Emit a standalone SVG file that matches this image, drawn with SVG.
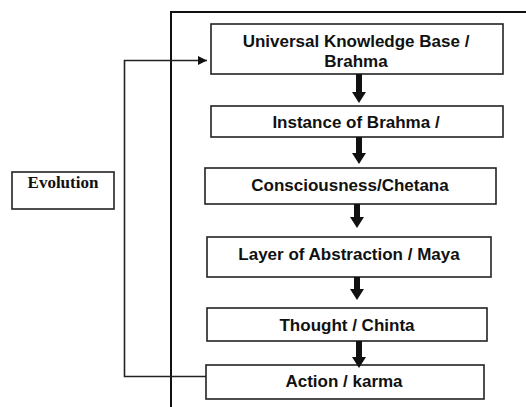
<svg xmlns="http://www.w3.org/2000/svg" width="526" height="407" viewBox="0 0 526 407">
<style>
.box{fill:#fff;stroke:#222;stroke-width:1.6}
.t{font-family:"Liberation Sans",Arial,sans-serif;font-weight:bold;font-size:17px;fill:#111;text-anchor:middle}
.ev{font-family:"Liberation Serif","Times New Roman",serif;font-weight:bold;font-size:17px;fill:#111;text-anchor:middle}
.ln{fill:none;stroke:#222;stroke-width:1.6}
.frame{fill:none;stroke:#111;stroke-width:2}
</style>
<defs>
<marker id="ah" viewBox="0 0 10 10" refX="10" refY="5" markerWidth="10" markerHeight="9" markerUnits="userSpaceOnUse" orient="auto">
<path d="M0,0 L10,5 L0,10 Z" fill="#111"/>
</marker>
<path id="dn" d="M-3,0 H3 V-11 H7 L0,0 L-7,-11 H-3 Z" fill="#111"/>
</defs>
<rect width="526" height="407" fill="#fff"/>
<path class="frame" d="M171,407 V12 H526"/>
<g id="evolution">
<rect class="box" x="12" y="172" width="102" height="37"/>
<text class="ev" x="63" y="188">Evolution</text>
</g>
<g id="n1">
<rect class="box" x="211" y="24" width="292" height="50"/>
<text class="t" x="356" y="46.5">Universal Knowledge Base /</text>
<text class="t" x="356" y="66.5">Brahma</text>
</g>
<g id="n2">
<rect class="box" x="211" y="106" width="292" height="31"/>
<text class="t" x="356" y="128">Instance of Brahma /</text>
</g>
<g id="n3">
<rect class="box" x="205" y="168" width="291" height="36"/>
<text class="t" x="350" y="191">Consciousness/Chetana</text>
</g>
<g id="n4">
<rect class="box" x="207" y="237" width="284" height="40"/>
<text class="t" x="349" y="260">Layer of Abstraction / Maya</text>
</g>
<g id="n5">
<rect class="box" x="207" y="308" width="280" height="33"/>
<text class="t" x="347" y="331">Thought / Chinta</text>
</g>
<g id="n6">
<rect class="box" x="206" y="365" width="278" height="34"/>
<text class="t" x="344" y="387">Action / karma</text>
</g>
<g id="connectors">
<path d="M356,74 H362 V92 H366 L359,103 L352,92 H356 Z" fill="#111"/>
<path d="M356,137 H362 V153 H366 L359,164 L352,153 H356 Z" fill="#111"/>
<path d="M354,204 H360 V217 H364 L357,228 L350,217 H354 Z" fill="#111"/>
<path d="M354,277 H360 V289 H364 L357,300 L350,289 H354 Z" fill="#111"/>
<path d="M356,341 H362 V357 H366 L359,368 L352,357 H356 Z" fill="#111"/>
<path class="ln" d="M206,376.5 H124.5 V60.5 H207" marker-end="url(#ah)"/>
</g>
</svg>
